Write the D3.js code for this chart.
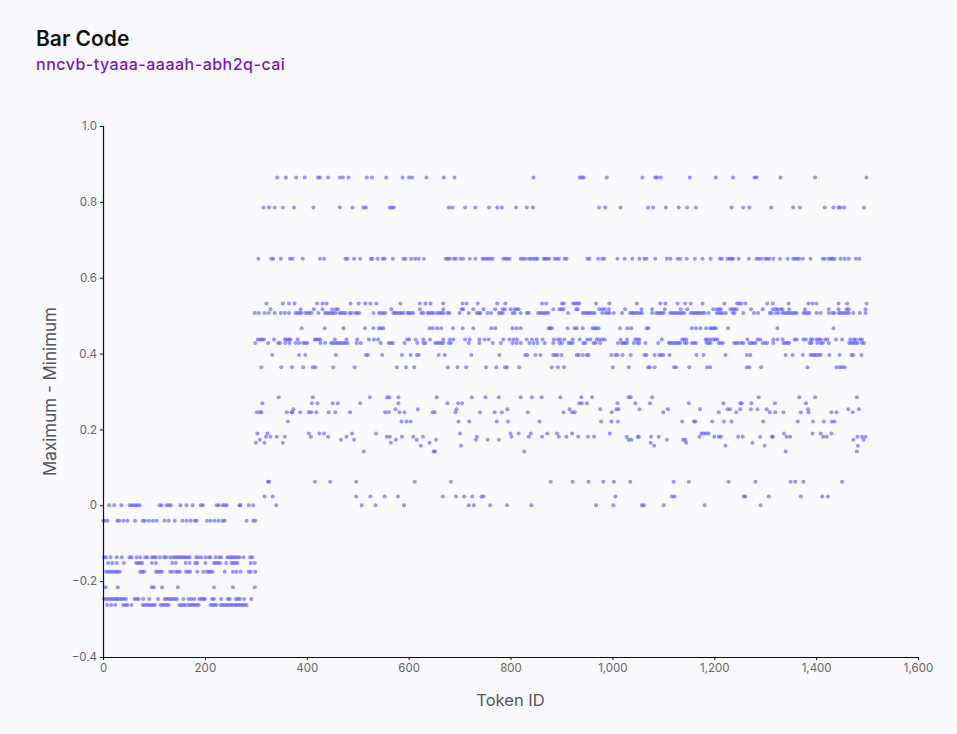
<!DOCTYPE html>
<html>
<head>
<meta charset="utf-8">
<script src="https://cdn.jsdelivr.net/npm/d3@7/dist/d3.min.js"></script>
<style>
  html, body { margin: 0; padding: 0; background: #f9f9fe; }
  svg { display: block; font-family: Inter, "Noto Sans", sans-serif; }
</style>
</head>
<body>
<svg id="chart" width="957" height="734"></svg>
<script>
// ---- DATA (token IDs per observed Maximum - Minimum level) ----
const xTicks = [0, 200, 400, 600, 800, 1000, 1200, 1400, 1600];
const yTicks = [-0.4, -0.2, 0, 0.2, 0.4, 0.6, 0.8, 1.0];

// left block (tokens 1-300)
const lv_0 = [12,22,36,52,56,60,64,68,72,111,115,125,129,133,152,164,176,192,196,223,227,235,239,243,268,270,286,295,340,
  508,535,591,718,728,760,793,841,968,1002,1058,1062,1101,1181,1291];
const lv_m041 = [1,3,9,28,32,40,48,63,78,82,90,98,105,121,129,141,156,164,172,180,184,204,211,219,227,235,239,282,295,299];
const lv_m137 = [2,6,15,27,37,52,56,66,73,83,87,96,100,104,112,120,124,132,138,142,146,150,154,158,162,166,170,183,187,193,201,208,211,221,228,232,244,248,252,256,260,264,268,276,289,293];
const lv_m152 = [10,18,27,41,65,69,73,77,96,104,136,143,162,170,181,185,201,218,222,226,230,242,252,256,260,264,290,298];
const lv_m175 = [6,10,14,18,22,26,29,33,73,77,81,104,108,112,116,132,136,143,147,151,163,167,171,185,197,204,208,211,215,239,255,262,270,286,290,299];
const lv_m216 = [5,29,96,100,116,147,218,255,298];
const lv_m247 = [2,6,10,14,18,22,26,29,33,37,41,45,62,66,70,79,91,108,121,125,129,133,137,141,145,158,168,173,179,189,193,197,200,214,218,232,245,249,261,265,269,277,291];
const lv_m263 = [8,16,24,40,44,48,56,78,82,86,90,94,98,102,113,117,121,125,129,150,154,158,162,168,172,176,180,184,188,211,215,219,223,231,235,239,243,247,251,255,259,262,266,270,274,278,282];

// right block (tokens 300-1500)
const lv_864 = [342,359,379,396,422,426,442,465,471,482,518,528,556,588,601,607,635,669,690,845,936,940,944,989,1059,1084,1088,1095,1152,1203,1237,1279,1283,1330,1398,1499];
const lv_785 = [315,326,337,353,375,413,465,490,511,516,563,567,571,679,686,711,731,758,774,783,811,832,844,974,986,1016,1070,1080,1105,1130,1147,1164,1234,1257,1269,1312,1355,1368,1417,1434,1444,1448,1455,1494];
const lv_650 = [305,330,334,349,367,372,392,426,434,476,480,493,505,526,529,539,549,553,569,590,594,605,613,620,630,673,677,681,689,693,702,707,720,731,745,749,753,757,761,765,786,790,794,798,820,824,829,836,840,845,849,853,865,868,872,876,
  887,891,895,906,910,951,955,972,980,984,1010,1024,1039,1053,1063,1067,1084,1107,1114,1128,1133,1146,1162,1177,1193,1211,1215,1226,1230,1234,1237,1248,1268,1283,1287,1292,1300,1304,1308,1316,1329,1344,1355,1359,1363,1367,1374,1389,1413,1417,1425,1429,1432,1436,1448,1456,1464,1478,1485];
const lv_532 = [321,353,365,376,420,431,439,486,502,515,525,537,584,622,633,643,668,706,714,736,774,790,862,870,
  901,905,923,927,931,935,968,994,1048,1094,1104,1128,1143,1154,1177,1220,1245,1249,1253,1261,1304,1315,1346,1385,1393,1401,1444,1461,1499];
const lv_517 = [329,388,414,431,450,457,461,566,622,668,704,707,727,747,770,785,789,800,808,812,816,
  884,896,900,904,929,932,974,980,985,993,1025,1057,1078,1103,1134,1147,1198,1205,1209,1213,1232,1236,1240,1244,1272,1295,1315,1320,1324,1330,1334,1347,1378,1425,1444,1460,1464,1497];
const lv_507 = [298,306,317,325,337,349,357,365,378,382,386,389,397,401,405,409,423,436,440,444,448,452,456,464,468,472,476,484,488,495,499,503,531,542,546,550,554,570,574,578,582,586,590,598,601,605,609,625,629,637,641,645,649,656,660,664,668,676,680,700,718,734,738,741,755,762,777,781,785,804,808,820,832,836,854,858,862,866,870,874,
  913,942,946,950,953,957,961,965,980,987,991,995,1003,1019,1035,1039,1042,1046,1050,1054,1058,1078,1086,1090,1094,1097,1101,1113,1117,1121,1125,1129,1133,1137,1141,1154,1158,1162,1166,1169,1173,1177,1181,1189,1205,1209,1213,1217,1223,1236,1240,1257,1278,1286,1309,1313,1321,1326,1334,1338,1342,1346,1350,1354,1358,1362,1375,1379,1383,1387,1401,1409,1425,1432,1436,1444,1448,1452,1456,1460,1464,1473,1486,1497];
const lv_467 = [390,435,472,514,531,542,546,550,641,647,656,664,687,706,727,762,770,804,812,820,875,
  878,881,912,926,930,942,961,965,969,973,1015,1029,1037,1067,1071,1156,1164,1173,1184,1192,1196,1200,1203,1227,1324,1434];
const lv_437 = [304,308,312,316,336,357,361,365,368,382,416,419,423,427,455,478,499,522,532,540,597,601,614,629,642,668,681,688,711,720,739,749,757,786,798,806,813,832,842,851,863,
  885,893,898,906,922,936,951,957,969,974,980,985,1016,1029,1045,1049,1053,1097,1137,1141,1145,1183,1186,1192,1198,1202,1206,1265,1285,1290,1316,1324,1334,1358,1362,1375,1380,1389,1393,1401,1405,1409,1418,1422,1439,1451,1467,1474,1478,1486,1490];
const lv_428 = [299,324,344,348,358,366,378,385,393,397,401,427,436,448,452,456,460,464,468,472,476,480,498,506,545,561,565,569,592,617,629,633,652,656,660,664,668,679,683,718,739,765,781,804,812,820,837,845,853,867,
  884,896,901,914,918,922,943,947,963,967,976,1011,1018,1022,1025,1029,1042,1049,1053,1065,1090,1111,1114,1118,1122,1126,1130,1133,1142,1146,1156,1160,1164,1185,1189,1193,1209,1213,1217,1239,1243,1247,1253,1257,1269,1273,1277,1281,1295,1300,1304,1316,1336,1340,1344,1347,1387,1391,1402,1409,1413,1425,1465,1469,1473,1477,1481,1490,1494];
const lv_396 = [332,385,397,457,516,520,548,587,604,616,620,659,671,723,778,829,833,849,859,
  884,888,892,900,930,934,942,950,953,998,1006,1010,1020,1036,1063,1067,1083,1092,1096,1100,1112,1165,1179,1222,1264,1271,1340,1354,1374,1389,1393,1397,1401,1405,1409,1426,1446,1469,1473,1489];
const lv_364 = [311,350,371,393,412,417,452,494,577,595,611,677,696,713,752,772,789,793,817,
  881,893,905,1001,1032,1070,1074,1083,1121,1125,1151,1186,1192,1264,1269,1292,1383,1440,1446,1451,1456];
const lv_285 = [345,412,524,558,562,580,655,724,751,777,820,842,861,898,939,960,1032,1036,1078,1287,1367,1398,1480];
const lv_269 = [313,410,421,451,461,505,580,676,697,705,935,940,950,1010,1045,1074,1150,1218,1251,1254,1273,1319,1380];
const lv_253 = [374,574,618,694,794,916,976,1008,1012,1053,1109,1172,1226,1231,1251,1272,1285,1303,1384,1463,1484];
const lv_245 = [302,308,311,361,370,372,387,404,409,419,443,456,485,554,561,582,592,647,651,692,740,769,783,834,
  904,921,926,999,1100,1209,1243,1309,1320,1336,1370,1385,1430,1440,1472];
const lv_221 = [363,586,596,604,698,719,773,795,857,978,998,1011,1137,1160,1163,1196,1219,1234,1296,1364,1394,1415,1431,1436];
const lv_189 = [303,323,404,425,434,489,536,701,800,816,840,872,891,921,995,1175,1179,1184,1189,1337,1393,1409,1430];
const lv_181 = [320,329,341,357,408,442,478,557,563,587,609,628,734,802,836,862,
  895,910,933,952,964,1028,1050,1052,1076,1091,1171,1200,1209,1213,1247,1256,1290,1313,1315,1342,1349,1414,1421,1481,1490,1497];
const lv_173 = [308,467,493,575,616,654,732,755,777,1032,1037,1107,1139,1143,1473,1493];
const lv_165 = [300,317,353,565,641,1075,1145,1275];
const lv_157 = [624,703,1082,1222,1299,1482];
const lv_142 = [512,649,652,827,1340,1480];
const lv_062 = [324,326,416,446,497,612,683,879,922,953,982,1003,1035,1120,1150,1228,1281,1350,1359,1375,1451];
const lv_023 = [317,333,497,525,553,579,667,693,709,725,743,747,1006,1117,1122,1258,1261,1307,1370,1412,1423];

const levelValues = [0, -0.041, -0.137, -0.152, -0.175, -0.216, -0.247, -0.263,
  0.864, 0.785, 0.650, 0.532, 0.517, 0.507, 0.467, 0.437, 0.428, 0.396, 0.364,
  0.285, 0.269, 0.253, 0.245, 0.221, 0.189, 0.181, 0.173, 0.165, 0.157, 0.142, 0.062, 0.023];
const levelTokens = [lv_0, lv_m041, lv_m137, lv_m152, lv_m175, lv_m216, lv_m247, lv_m263,
  lv_864, lv_785, lv_650, lv_532, lv_517, lv_507, lv_467, lv_437, lv_428, lv_396, lv_364,
  lv_285, lv_269, lv_253, lv_245, lv_221, lv_189, lv_181, lv_173, lv_165, lv_157, lv_142, lv_062, lv_023];

const points = [];
levelValues.forEach((v, i) => levelTokens[i].forEach(t => points.push({ token: t, value: v })));

// ---- CHART ----
const svg = d3.select("#chart");
const margin = { left: 103, right: 39, top: 126, bottom: 77 };
const W = 957, H = 734;

const x = d3.scaleLinear().domain([0, 1600]).range([margin.left, W - margin.right]);
const y = d3.scaleLinear().domain([-0.4, 1.0]).range([H - margin.bottom, margin.top]);

svg.append("text").attr("x", 36).attr("y", 46)
  .attr("font-size", 21).attr("font-weight", 600).attr("fill", "#141414")
  .text("Bar Code");
svg.append("text").attr("x", 36).attr("y", 70)
  .attr("font-size", 16).attr("font-weight", 500).attr("fill", "#7a18b5")
  .attr("letter-spacing", "0.5")
  .text("nncvb-tyaaa-aaaah-abh2q-cai");

// points
svg.append("g").selectAll("circle").data(points).join("circle")
  .attr("cx", d => x(d.token)).attr("cy", d => y(d.value)).attr("r", 2)
  .attr("fill", "#5555ff").attr("fill-opacity", 0.6);

const fmtY = d => d === 0 ? "0" : d3.format(".1f")(d);
const yAxis = svg.append("g").attr("transform", `translate(${margin.left},0)`)
  .call(d3.axisLeft(y).tickValues(yTicks).tickSize(3).tickPadding(3).tickFormat(fmtY));
const xAxis = svg.append("g").attr("transform", `translate(0,${H - margin.bottom})`)
  .call(d3.axisBottom(x).tickValues(xTicks).tickSize(3).tickPadding(4).tickFormat(d3.format(",")));
[xAxis, yAxis].forEach(g => {
  g.select(".domain").attr("stroke", "#111").attr("stroke-width", 1.2);
  g.selectAll(".tick line").attr("stroke", "#111");
  g.selectAll(".tick text").attr("fill", "#666").attr("font-size", 11.5)
    .attr("font-family", "Inter, 'Noto Sans', sans-serif");
});

svg.append("text").attr("x", x(800)).attr("y", 706).attr("text-anchor", "middle")
  .attr("font-size", 16.5).attr("fill", "#555").text("Token ID");
svg.append("text").attr("transform", `translate(56,${(margin.top + H - margin.bottom) / 2}) rotate(-90)`)
  .attr("text-anchor", "middle").attr("font-size", 17).attr("fill", "#555").text("Maximum - Minimum");
</script>
</body>
</html>
